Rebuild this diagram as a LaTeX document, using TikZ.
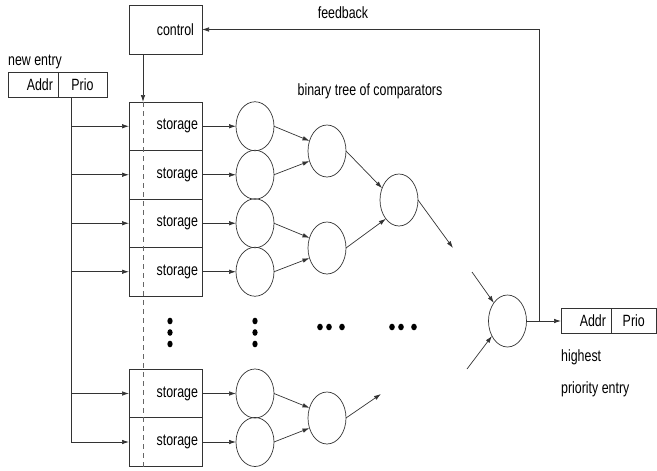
\documentclass[tikz,border=0pt]{standalone}
\usepackage{fontspec}
\setmainfont[FakeStretch=0.76]{Liberation Sans}
\usetikzlibrary{arrows.meta,shapes.geometric}
\begin{document}
\begin{tikzpicture}[x=1pt,y=-1pt,
  every node/.style={font=\fontsize{16.3}{19}\selectfont},
  ln/.style={draw=black!80,line width=0.7pt},
  arr/.style={ln,-{Latex[length=7pt,width=4.5pt]}},
  stor/.style={ln,rectangle,minimum width=73pt,minimum height=48.5pt,text width=65pt,inner xsep=4pt,align=right,outer sep=0pt},
  cmp/.style={ln,ellipse,minimum width=38pt,minimum height=50pt,inner sep=0pt,outer sep=0pt},
  cell/.style={ln,rectangle,minimum height=25pt,inner ysep=0pt,outer sep=0pt},
  txt/.style={inner sep=0pt},
  dotst/.style={fill=black}]
\useasboundingbox (0,0) rectangle (657,471);
% control
\node[ln,rectangle,minimum width=73pt,minimum height=49pt,text width=57pt,inner xsep=8pt,align=right,outer sep=0pt] (ctrl) at (165.5,29.5) {control};
% new entry
\node[txt,anchor=west] (newentry) at (8,62) {new entry};
\node[cell,minimum width=50pt,text width=40pt,inner xsep=5pt,align=right] (naddr) at (33,84.5) {Addr};
\node[cell,minimum width=49pt,align=center] (nprio) at (82.5,84.5) {Prio};
% storage
\node[stor] (s1) at (165.5,126.25) {storage};
\node[stor] (s2) at (165.5,174.75) {storage};
\node[stor] (s3) at (165.5,223.25) {storage};
\node[stor] (s4) at (165.5,271.75) {storage};
\node[stor] (s5) at (165.5,393.5) {storage};
\node[stor] (s6) at (165.5,442) {storage};
% comparators
\node[cmp,minimum height=49pt] (a1) at (255,126.25) {};
\node[cmp,minimum height=49pt] (a2) at (255,174.75) {};
\node[cmp,minimum height=49pt] (a3) at (255,223.25) {};
\node[cmp,minimum height=49pt] (a4) at (255,271.75) {};
\node[cmp,minimum height=49pt] (a5) at (255,393.5) {};
\node[cmp,minimum height=49pt] (a6) at (255,442) {};
\node[cmp,minimum height=52pt] (b1) at (327,151) {};
\node[cmp,minimum height=52pt] (b2) at (327,248) {};
\node[cmp,minimum height=52pt] (b3) at (327,418) {};
\node[cmp,minimum height=52pt] (c1) at (399,200) {};
\node[cmp,minimum height=52pt] (d) at (507.5,321) {};
% output
\node[cell,minimum width=50pt,text width=40pt,inner xsep=5pt,align=right] (haddr) at (586,321) {Addr};
\node[cell,minimum width=45.5pt,align=center] (hprio) at (633.75,321) {Prio};
\node[txt,anchor=west] (hi1) at (561,357) {highest};
\node[txt,anchor=west] (hi2) at (561,389) {priority entry};
\node[txt] (fbl) at (343,13) {feedback};
\node[txt] (btl) at (370,91) {binary tree of comparators};
% coordinates
\coordinate (p0) at (71,97);
\coordinate (pend) at (71,442);
\coordinate (ctop) at (143,54);
\coordinate (cstor) at (143,102);
\coordinate (cbot) at (143,467);
\coordinate (fb) at (539,321);
\coordinate (c1out) at (453,248);
\coordinate (din1) at (472,272);
\coordinate (din2) at (467,369);
\coordinate (b3out) at (381,394);
% new entry distribution
\draw[ln] (p0) -- (pend);
\foreach \s in {s1,s2,s3,s4,s5,s6} {
  \draw[arr] (p0 |- \s.west) -- (\s.west);
}
% control
\draw[arr] (ctop) -- (cstor);
\draw[draw=black!60,line width=0.7pt,dash pattern=on 5pt off 4pt] (cstor) -- (cbot);
% storage to comparators
\foreach \i in {1,...,6} {
  \draw[arr] (s\i.east) -- (a\i.west);
}
\draw[arr] (a1.east) -- (b1.150);
\draw[arr] (a2.east) -- (b1.210);
\draw[arr] (a3.east) -- (b2.150);
\draw[arr] (a4.east) -- (b2.210);
\draw[arr] (a5.east) -- (b3.150);
\draw[arr] (a6.east) -- (b3.210);
\draw[arr] (b1.east) -- (c1.145);
\draw[arr] (b2.east) -- (c1.235);
\draw[arr] (c1.east) -- (c1out);
\draw[arr] (b3.east) -- (b3out);
\draw[arr] (din1) -- (d.127);
\draw[arr] (din2) -- (d.224);
\draw[arr] (d.east) -- (haddr.west);
\draw[arr] (fb) |- (ctrl.east);
% dots
\foreach \x in {170,255} {
  \foreach \y in {321,332.5,344} { \fill[dotst] (\x,\y) ellipse (2.6pt and 3.3pt); }
}
\foreach \x in {320,329,342,392,401,414} { \fill[dotst] (\x,327) ellipse (2.8pt and 3.3pt); }
\end{tikzpicture}
\end{document}
